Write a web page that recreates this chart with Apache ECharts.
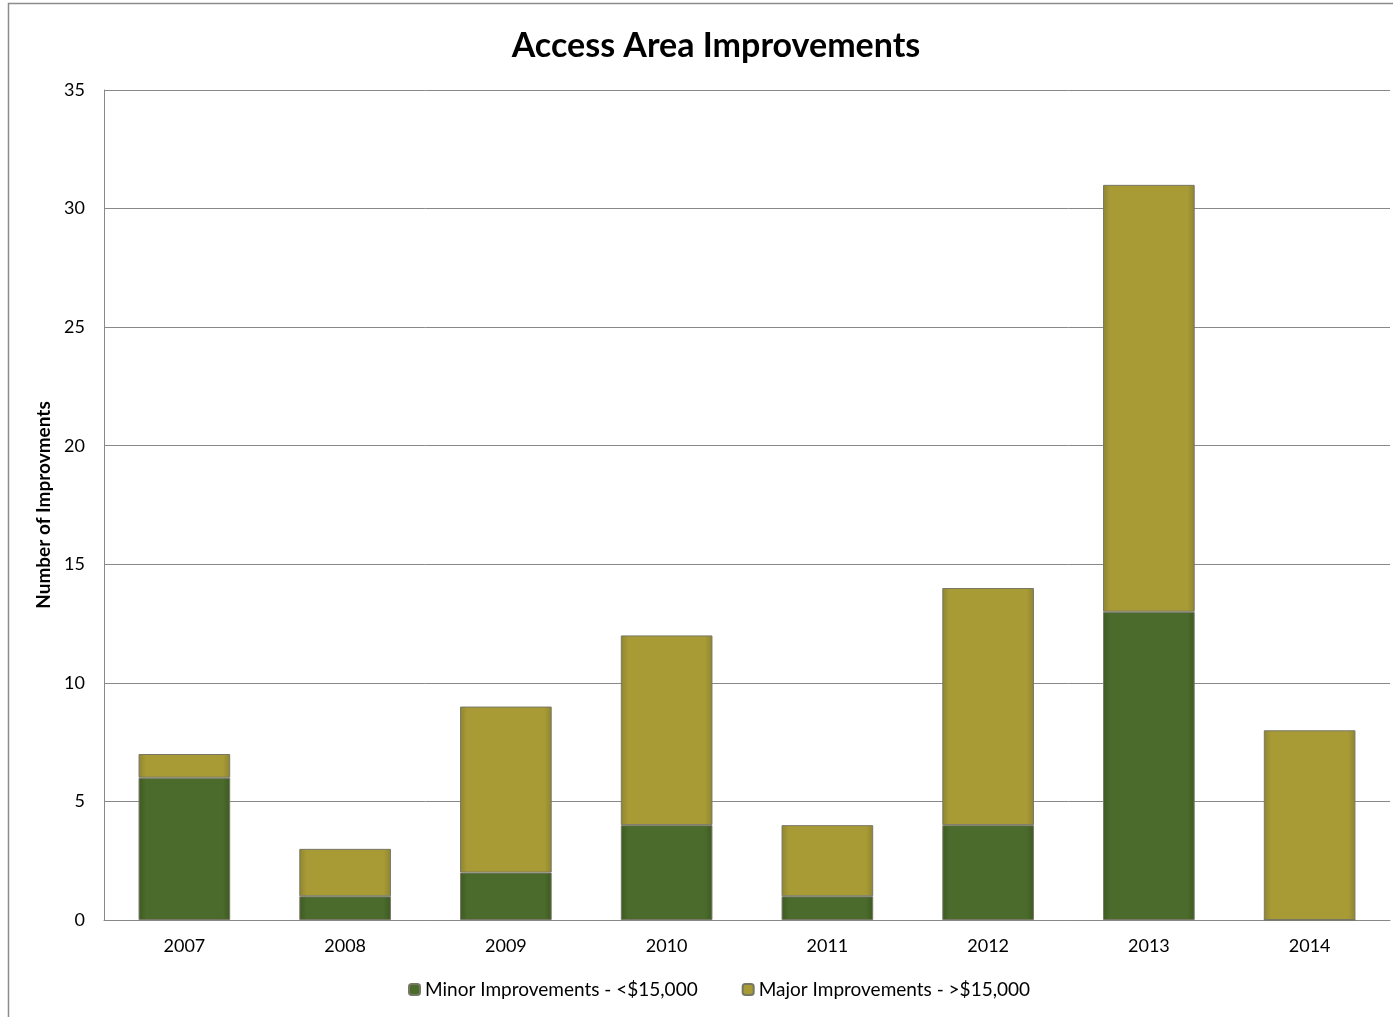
<!DOCTYPE html>
<html>
<head>
<meta charset="utf-8">
<script src="https://cdn.jsdelivr.net/npm/echarts@6/dist/echarts.min.js"></script>
<style>
  html, body { margin: 0; padding: 0; background: #fff; }
  #chart { width: 1393px; height: 1017px; }
</style>
</head>
<body>
<div id="chart"></div>
<script>
// Improvement counts per year
const years = ['2007', '2008', '2009', '2010', '2011', '2012', '2013', '2014'];
const minorCounts = [6, 1, 2, 4, 1, 4, 13, 0];
const majorCounts = [1, 2, 7, 8, 3, 10, 18, 8];
const yTicks = [0, 5, 10, 15, 20, 25, 30, 35];

const FONT = 'Lato, "Open Sans", sans-serif';

function barGradient(edge, mid) {
  return {
    type: 'linear', x: 0, y: 0, x2: 1, y2: 0,
    colorStops: [
      { offset: 0, color: edge },
      { offset: 0.08, color: mid },
      { offset: 0.92, color: mid },
      { offset: 1, color: edge }
    ]
  };
}

const chart = echarts.init(document.getElementById('chart'), null, { renderer: 'canvas' });

chart.setOption({
  backgroundColor: '#ffffff',
  animation: false,
  title: {
    text: 'Access Area Improvements',
    left: 711, top: 24, textAlign: 'center',
    textStyle: { fontFamily: FONT, fontWeight: 'bold', fontSize: 34, color: '#000' }
  },
  legend: {
    bottom: 13, left: 403,
    itemWidth: 11, itemHeight: 11, itemGap: 44,
    textStyle: { fontFamily: FONT, fontSize: 19, color: '#000' },
    data: ['Minor Improvements - <$15,000', 'Major Improvements - >$15,000']
  },
  grid: { left: 104, right: 3, top: 90, bottom: 97, containLabel: false },
  xAxis: {
    type: 'category',
    data: years,
    axisLine: { show: true, lineStyle: { color: '#888', width: 1 } },
    axisTick: { show: false },
    axisLabel: { fontFamily: FONT, fontSize: 18, color: '#000', margin: 17 }
  },
  yAxis: {
    type: 'value',
    min: yTicks[0], max: yTicks[yTicks.length - 1], interval: 5,
    name: 'Number of Improvments',
    nameLocation: 'middle', nameGap: 41, nameRotate: 90,
    nameTextStyle: { fontFamily: FONT, fontWeight: 'bold', fontSize: 19, color: '#000' },
    axisLine: { show: true, lineStyle: { color: '#888', width: 1 } },
    axisTick: { show: false },
    axisLabel: { fontFamily: FONT, fontSize: 18, color: '#000', margin: 19 },
    splitLine: { show: true, lineStyle: { color: '#888', width: 1 } }
  },
  series: [
    {
      name: 'Minor Improvements - <$15,000',
      type: 'bar', stack: 'total', barWidth: '57%',
      data: minorCounts,
      itemStyle: {
        color: barGradient('#3e5a22', '#4a6b2c'),
        borderColor: '#777766', borderWidth: 1
      }
    },
    {
      name: 'Major Improvements - >$15,000',
      type: 'bar', stack: 'total', barWidth: '57%',
      data: majorCounts,
      itemStyle: {
        color: barGradient('#8f8530', '#a89b36'),
        borderColor: '#777766', borderWidth: 1
      }
    }
  ],
  graphic: [
    {
      type: 'polyline',
      shape: { points: [[8.5, 1017], [8.5, 3.5], [1393, 3.5]] },
      style: { stroke: '#8c8c8c', lineWidth: 1.5, fill: null }
    }
  ]
});
</script>
</body>
</html>
